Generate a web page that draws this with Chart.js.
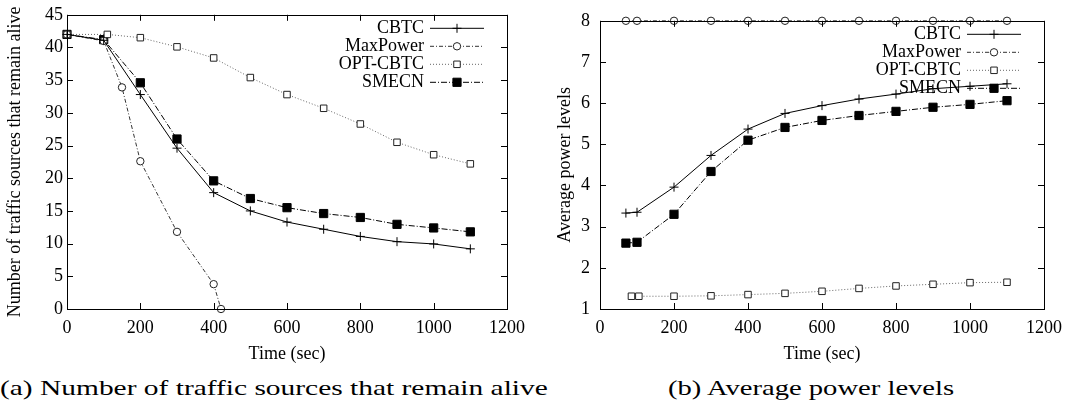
<!DOCTYPE html>
<html>
<head>
<meta charset="utf-8">
<script src="https://cdn.jsdelivr.net/npm/chart.js@4.4.1/dist/chart.umd.min.js"></script>
<style>
  html, body { margin: 0; padding: 0; background: #fff; }
  body { width: 1070px; height: 408px; position: relative; overflow: hidden; }
  .panel { position: absolute; top: 0; width: 535px; height: 365px; }
  #left-panel { left: 0; }
  #right-panel { left: 535px; }
  .caption {
    position: absolute; top: 376px; font-family: "Liberation Serif", serif;
    font-size: 21px; font-weight: normal; line-height: 24px; white-space: nowrap; color: #000;
    transform-origin: 0 0;
  }
</style>
</head>
<body>
<div class="panel" id="left-panel"><canvas id="alive-chart" width="535" height="365"></canvas></div>
<div class="panel" id="right-panel"><canvas id="power-chart" width="535" height="365"></canvas></div>
<div class="caption" id="caption-a" style="left:0px">(a) Number of traffic sources that remain alive</div>
<div class="caption" id="caption-b" style="left:668px">(b) Average power levels</div>
<script>
const seriesNames = ["CBTC", "MaxPower", "OPT-CBTC", "SMECN"];
const timeTicks = [0, 200, 400, 600, 800, 1000, 1200];
const aliveTicks = [0, 5, 10, 15, 20, 25, 30, 35, 40, 45];
const powerTicks = [1, 2, 3, 4, 5, 6, 7, 8];

// (a) traffic sources alive
const aliveTimeCbtc = [0, 100, 200, 300, 400, 500, 600, 700, 800, 900, 1000, 1100];
const aliveCbtc = [42, 41.1, 32.8, 24.6, 17.8, 15.0, 13.3, 12.2, 11.1, 10.3, 9.95, 9.2];
const aliveTimeMaxPower = [0, 100, 150, 200, 300, 400, 420];
const aliveMaxPower = [42, 41, 33.9, 22.6, 11.8, 3.8, 0];
const aliveTimeOpt = [0, 110, 200, 300, 400, 500, 600, 700, 800, 900, 1000, 1100];
const aliveOpt = [42, 42.0, 41.5, 40.1, 38.4, 35.4, 32.8, 30.7, 28.3, 25.5, 23.6, 22.2];
const aliveTimeSmecn = [0, 100, 200, 300, 400, 500, 600, 700, 800, 900, 1000, 1100];
const aliveSmecn = [42, 41.2, 34.6, 26.0, 19.6, 16.9, 15.5, 14.6, 14.0, 12.95, 12.4, 11.8];

// (b) average power levels
const powerTimeCbtc = [70, 100, 200, 300, 400, 500, 600, 700, 800, 900, 1000, 1100];
const powerCbtc = [3.33, 3.35, 3.96, 4.73, 5.37, 5.75, 5.94, 6.10, 6.22, 6.35, 6.41, 6.47];
const powerTimeMaxPower = [70, 100, 200, 300, 400, 500, 600, 700, 800, 900, 1000, 1100];
const powerMaxPower = [8, 8, 8, 8, 8, 8, 8, 8, 8, 8, 8, 8];
const powerTimeOpt = [85, 105, 200, 300, 400, 500, 600, 700, 800, 900, 1000, 1100];
const powerOpt = [1.31, 1.31, 1.31, 1.32, 1.35, 1.38, 1.43, 1.50, 1.56, 1.60, 1.64, 1.65];
const powerTimeSmecn = [70, 100, 200, 300, 400, 500, 600, 700, 800, 900, 1000, 1100];
const powerSmecn = [2.60, 2.62, 3.30, 4.34, 5.10, 5.41, 5.58, 5.70, 5.80, 5.90, 5.97, 6.06];

const FONT = { family: "'Liberation Serif', 'Times New Roman', serif", size: 18 };

const seriesStyles = {
  "CBTC": { borderColor: "#000", borderDash: [], pointStyle: "cross", pointRadius: 4.5, pointBackgroundColor: "#000", pointBorderColor: "#000" },
  "MaxPower": { borderColor: "#333", borderDash: [4, 2, 1, 2], pointStyle: "circle", pointRadius: 3.7, pointBackgroundColor: "#fff", pointBorderColor: "#222" },
  "OPT-CBTC": { borderColor: "#666", borderDash: [1, 2], pointStyle: "rect", pointRadius: 4.6, pointBackgroundColor: "#fff", pointBorderColor: "#222" },
  "SMECN": { borderColor: "#000", borderDash: [6, 2, 1, 2], pointStyle: "rect", pointRadius: 5.8, pointBackgroundColor: "#000", pointBorderColor: "#000" },
};

const toPoints = (xs, ys) => xs.map((x, i) => ({ x, y: ys[i] }));

const makeDataset = (name, xs, ys) => ({
  label: name,
  data: toPoints(xs, ys),
  ...seriesStyles[name],
  borderWidth: 1,
  pointBorderWidth: 1,
  pointHoverRadius: 0,
  tension: 0,
  fill: false,
  clip: false,
});

// gnuplot-like frame with inward ticks, plus the legend in the top right
const framePlugin = {
  id: "gnuFrame",
  afterDatasetsDraw(chart) {
    const { ctx, chartArea: a, scales } = chart;
    ctx.save();
    ctx.strokeStyle = "#000";
    ctx.lineWidth = 1;
    ctx.setLineDash([]);
    ctx.beginPath();
    scales.x.ticks.forEach((t) => {
      const px = Math.round(scales.x.getPixelForValue(t.value)) + 0.5;
      ctx.moveTo(px, a.bottom); ctx.lineTo(px, a.bottom - 6);
      ctx.moveTo(px, a.top); ctx.lineTo(px, a.top + 6);
    });
    scales.y.ticks.forEach((t) => {
      const py = Math.round(scales.y.getPixelForValue(t.value)) + 0.5;
      ctx.moveTo(a.left, py); ctx.lineTo(a.left + 6, py);
      ctx.moveTo(a.right, py); ctx.lineTo(a.right - 6, py);
    });
    ctx.stroke();
    ctx.strokeRect(Math.round(a.left) + 0.5, Math.round(a.top) + 0.5, Math.round(a.right - a.left), Math.round(a.bottom - a.top));
    ctx.restore();
  },
  afterDraw(chart) {
    const { ctx, chartArea: a } = chart;
    ctx.save();
    ctx.font = `${FONT.size}px ${FONT.family}`;
    ctx.textAlign = "right";
    ctx.textBaseline = "middle";
    chart.data.datasets.forEach((ds, i) => {
      const y = a.top + 13 + i * 18;
      ctx.fillStyle = "#000";
      ctx.fillText(ds.label, a.right - 83, y);
      ctx.strokeStyle = ds.borderColor;
      ctx.lineWidth = 1;
      ctx.setLineDash(ds.borderDash);
      ctx.beginPath();
      ctx.moveTo(a.right - 77, y + 0.5);
      ctx.lineTo(a.right - 23, y + 0.5);
      ctx.stroke();
      ctx.setLineDash([]);
      ctx.fillStyle = ds.pointBackgroundColor;
      ctx.strokeStyle = ds.pointBorderColor;
      Chart.helpers.drawPoint(ctx, { pointStyle: ds.pointStyle, radius: ds.pointRadius, rotation: 0, borderWidth: 1 }, a.right - 50, y + 0.5);
    });
    ctx.restore();
  },
};

const makeConfig = (datasets, yTicks, yTitle, yOpts) => ({
  type: "line",
  data: { datasets },
  options: {
    responsive: false,
    animation: false,
    devicePixelRatio: 1,
    layout: { padding: { left: 0, right: yOpts.rightPad, top: 9, bottom: 0 } },
    plugins: { legend: { display: false }, tooltip: { enabled: false } },
    scales: {
      x: {
        type: "linear",
        min: 0,
        max: 1200,
        afterBuildTicks: (scale) => { scale.ticks = timeTicks.map((v) => ({ value: v })); },
        afterFit: (scale) => { scale.height = 56; },
        grid: { display: false, drawTicks: false },
        border: { display: false },
        ticks: { color: "#000", font: FONT, padding: 8, maxRotation: 0, callback: (v) => String(v) },
        title: { display: true, text: "Time (sec)", color: "#000", font: FONT, padding: { top: 0, bottom: 0 } },
      },
      y: {
        type: "linear",
        min: yTicks[0],
        max: yTicks[yTicks.length - 1],
        afterBuildTicks: (scale) => { scale.ticks = yTicks.map((v) => ({ value: v })); },
        afterFit: (scale) => { scale.width = yOpts.axisWidth; },
        grid: { display: false, drawTicks: false },
        border: { display: false },
        ticks: { color: "#000", font: FONT, padding: yOpts.tickPad, callback: (v) => String(v) },
        title: { display: true, text: yTitle, color: "#000", font: FONT, padding: { top: yOpts.titlePad, bottom: 0 } },
      },
    },
  },
  plugins: [framePlugin],
});

const setupAliveChart = () => {
  const datasets = [
    makeDataset("CBTC", aliveTimeCbtc, aliveCbtc),
    makeDataset("MaxPower", aliveTimeMaxPower, aliveMaxPower),
    makeDataset("OPT-CBTC", aliveTimeOpt, aliveOpt),
    makeDataset("SMECN", aliveTimeSmecn, aliveSmecn),
  ];
  new Chart(document.getElementById("alive-chart"),
    makeConfig(datasets, aliveTicks, "Number of traffic sources that remain alive",
      { axisWidth: 67, rightPad: 28, tickPad: 4, titlePad: 4 }));
};

const setupPowerChart = () => {
  const datasets = [
    makeDataset("CBTC", powerTimeCbtc, powerCbtc),
    makeDataset("MaxPower", powerTimeMaxPower, powerMaxPower),
    makeDataset("OPT-CBTC", powerTimeOpt, powerOpt),
    makeDataset("SMECN", powerTimeSmecn, powerSmecn),
  ];
  new Chart(document.getElementById("power-chart"),
    makeConfig(datasets, powerTicks, "Average power levels",
      { axisWidth: 65, rightPad: 20, tickPad: 10, titlePad: 19 }));
};

// stretch captions to the width they take in the figure
const fitCaption = (id, width) => {
  const el = document.getElementById(id);
  el.style.transform = `scaleX(${width / el.scrollWidth})`;
};

setupAliveChart();
setupPowerChart();
fitCaption("caption-a", 548);
fitCaption("caption-b", 286);
</script>
</body>
</html>
